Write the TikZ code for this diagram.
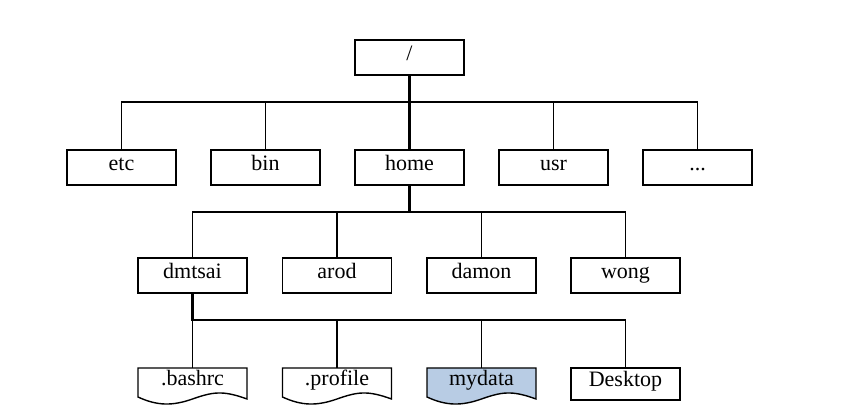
\documentclass[tikz,border=0pt]{standalone}
\usepackage{fontspec}
\setmainfont{Liberation Serif}
\begin{document}
\begin{tikzpicture}[x=1pt,y=-1pt,
  tf/.style={font=\fontsize{22}{22}\selectfont},
  box/.style={draw,line width=1.4pt,minimum width=109pt,minimum height=35pt,inner sep=0pt,tf,text height=11pt,text depth=5pt},
  ln/.style={line width=1.4pt},
  hl/.style={line width=2.4pt}]
\useasboundingbox (0,0) rectangle (854,419);
\fill[white] (0,0) rectangle (854,419);
\definecolor{docblue}{HTML}{B8CCE4}
\node[box] (root) at (409.5,57.5) {/};
\node[box] (etc) at (121.5,167.5) {etc};
\node[box] (bin) at (265.5,167.5) {bin};
\node[box] (home) at (409.5,167.5) {home};
\node[box] (usr) at (553.5,167.5) {usr};
\node[box] (dots) at (697.5,167.5) {...};
\node[box] (dmtsai) at (192.5,275.5) {dmtsai};
\node[box] (arod) at (337,275.5) {arod};
\node[box] (damon) at (481.5,275.5) {damon};
\node[box] (wong) at (625.5,275.5) {wong};
\newcommand{\docshape}[2]{%
  \path[draw,line width=1.4pt,fill=#2] (#1-54.5,368) -- (#1+54.5,368) -- (#1+54.5,399)
   .. controls (#1+30,390) and (#1+20,392) .. (#1,399)
   .. controls (#1-20,406) and (#1-35,406) .. (#1-54.5,397) -- cycle;}
\docshape{192.5}{white}
\docshape{337}{white}
\docshape{481.5}{docblue}
\node[tf,text height=11pt,text depth=5pt] (bashrc) at (192.5,383) {.bashrc};
\node[tf,text height=11pt,text depth=5pt] (profile) at (337,383) {.profile};
\node[tf,text height=11pt,text depth=5pt] (mydata) at (481.5,383) {mydata};
\node[box,minimum height=32pt] (desk) at (625.5,384) {Desktop};
\coordinate (b1) at (409.5,102);
\coordinate (b2) at (409.5,212);
\coordinate (b3) at (192.5,320);
\draw[hl] (root.south) -- (b1) -- (home.north);
\draw[ln] (etc.north) |- (b1) -| (dots.north);
\draw[ln] (bin.north) -- (bin.north|-b1);
\draw[ln] (usr.north) -- (usr.north|-b1);
\draw[hl] (home.south) -- (b2);
\draw[ln] (dmtsai.north) |- (b2) -| (wong.north);
\draw[ln] (arod.north) -- (arod.north|-b2);
\draw[ln] (damon.north) -- (damon.north|-b2);
\draw[hl] (dmtsai.south) -- (b3) -- (337,320);
\draw[ln] (337,320) -| (desk.north);
\draw[ln] (b3) -- (192.5,368);
\draw[ln] (337,320) -- (337,368);
\draw[ln] (481.5,320) -- (481.5,368);
\end{tikzpicture}
\end{document}
